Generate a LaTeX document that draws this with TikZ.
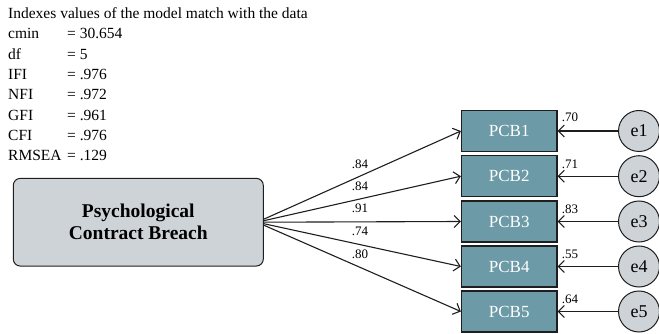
\documentclass[tikz,border=0pt]{standalone}
\usepackage{fontspec}
\setmainfont{Liberation Serif}
\usetikzlibrary{arrows.meta}
\definecolor{pcbfill}{RGB}{108,154,166}
\definecolor{greyfill}{RGB}{205,211,215}
\definecolor{edgecol}{RGB}{30,30,30}
\tikzset{
  fittxt/.style={anchor=base west, inner sep=0pt, font=\fontsize{15.5}{18}\selectfont},
  mainbox/.style={draw=edgecol, line width=1pt, fill=greyfill, rounded corners=7pt,
    minimum width=250pt, minimum height=87.7pt, align=center, inner sep=0pt,
    font=\fontsize{19.5}{22}\selectfont\bfseries},
  itembox/.style={draw=edgecol, line width=1.2pt, fill=pcbfill, minimum width=95.5pt,
    minimum height=41pt, inner sep=0pt, text=white, font=\fontsize{17}{18}\selectfont},
  errcirc/.style={draw=edgecol, line width=1pt, fill=greyfill, circle, minimum size=41pt,
    inner sep=0pt, font=\fontsize{18}{18}\selectfont},
  conn/.style={line width=1.1pt, draw=edgecol, -{Straight Barb[length=6pt,width=12pt,line width=1.1pt]}},
  lbl/.style={anchor=base west, inner sep=0pt, font=\fontsize{13}{14}\selectfont}
}
\begin{document}
\begin{tikzpicture}[x=1pt,y=-1pt]
\useasboundingbox (0,0) rectangle (659,334);
% fit indices
\node[fittxt] (title) at (8,18.5) {Indexes values of the model match with the data};
\foreach \n/\v/\y in {cmin/= 30.654/39, df/= 5/59.3, IFI/= .976/79.6, NFI/= .972/99.9, GFI/= .961/120.2, CFI/= .976/140.5, RMSEA/= .129/160.8}{
  \node[fittxt] (k\n) at (8,\y) {\n};
  \node[fittxt] (v\n) at (67,\y) {\v};
}
% main latent
\node[mainbox] (pcb) at (138.3,222.2) {Psychological\\Contract Breach};
% indicators and errors
\foreach \i/\y in {1/131,2/176.2,3/221.5,4/266.5,5/311.5}{
  \node[itembox] (b\i) at (509.2,\y) {PCB\i};
  \node[errcirc] (e\i) at (639,\y) {e\i};
}
% start points on main box
\coordinate (s1) at ([yshift=3pt]pcb.east);
\coordinate (s2) at ([yshift=1.5pt]pcb.east);
\coordinate (s3) at (pcb.east);
\coordinate (s4) at ([yshift=-1.5pt]pcb.east);
\coordinate (s5) at ([yshift=-3pt]pcb.east);
\foreach \i in {1,...,5}{
  \draw[conn] (s\i) -- (b\i.west);
  \draw[conn] (e\i.west) -- (b\i.east);
}
% loadings
\node[lbl] (l1) at (351.7,168) {.84};
\node[lbl] (l2) at (351.7,190) {.84};
\node[lbl] (l3) at (351.7,212.7) {.91};
\node[lbl] (l4) at (351.7,236) {.74};
\node[lbl] (l5) at (351.7,258.3) {.80};
% R2
\node[lbl] (r1) at (561.7,122) {.70};
\node[lbl] (r2) at (561.7,168) {.71};
\node[lbl] (r3) at (561.7,213) {.83};
\node[lbl] (r4) at (561.7,258) {.55};
\node[lbl] (r5) at (561.7,303.5) {.64};
\end{tikzpicture}
\end{document}
